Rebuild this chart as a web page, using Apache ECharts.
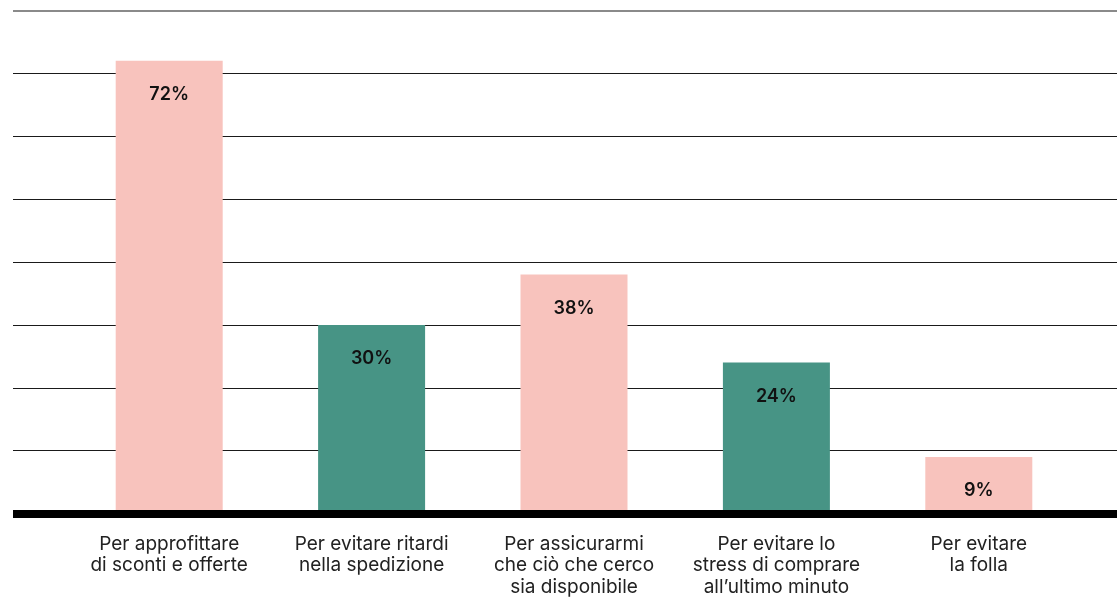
<!DOCTYPE html>
<html>
<head>
<meta charset="utf-8">
<script src="https://cdn.jsdelivr.net/npm/echarts@6/dist/echarts.min.js"></script>
<style>
  html, body { margin: 0; padding: 0; background: #ffffff; }
  #chart { width: 1117px; height: 597px; }
</style>
</head>
<body>
<div id="chart"></div>
<script>
// Reasons for shopping early (share of respondents, %)
const categories = [
  'Per approfittare\ndi sconti e offerte',
  'Per evitare ritardi\nnella spedizione',
  'Per assicurarmi\nche ciò che cerco\nsia disponibile',
  'Per evitare lo\nstress di comprare\nall\u2019ultimo minuto',
  'Per evitare\nla folla'
];
const values = [72, 30, 38, 24, 9];
const barColors = ['#F8C3BD', '#479485', '#F8C3BD', '#479485', '#F8C3BD'];

const yMin = 0, yMax = 80, yStep = 10;
const FONT = 'Inter, "Noto Sans", sans-serif';

const chart = echarts.init(document.getElementById('chart'), null, { renderer: 'canvas' });

const gridTop = 10.5, gridBottom = 83.5;

chart.setOption({
  animation: false,
  backgroundColor: '#ffffff',
  grid: [
    // full-width grid carrying the horizontal rules and baseline
    { left: 13, right: 0, top: gridTop, bottom: gridBottom, outerBoundsMode: 'none', containLabel: false },
    // inner grid carrying the bars
    { left: 68, right: 37, top: gridTop, bottom: gridBottom, outerBoundsMode: 'none', containLabel: false }
  ],
  xAxis: [
    {
      gridIndex: 0, type: 'value', min: 0, max: 1, position: 'bottom',
      offset: 2.6, z: 10,
      axisLine: { show: true, lineStyle: { color: '#000000', width: 8, cap: 'butt' } },
      axisTick: { show: false }, axisLabel: { show: false }, splitLine: { show: false }
    },
    {
      gridIndex: 0, type: 'value', min: 0, max: 1, position: 'top',
      axisLine: { show: true, lineStyle: { color: '#8a8a8a', width: 2, cap: 'butt' } },
      axisTick: { show: false }, axisLabel: { show: false }, splitLine: { show: false }
    },
    {
      gridIndex: 1, type: 'category', data: categories,
      axisLine: { show: false }, axisTick: { show: false },
      axisLabel: {
        interval: 0, margin: 20, color: '#222222', fontFamily: FONT,
        fontSize: 19, lineHeight: 21.5, verticalAlign: 'top', align: 'center'
      }
    }
  ],
  yAxis: [
    {
      gridIndex: 0, type: 'value', min: yMin, max: yMax, interval: yStep,
      axisLine: { show: false }, axisTick: { show: false }, axisLabel: { show: false },
      splitLine: { show: true, lineStyle: { color: '#1a1a1a', width: 1 } }
    },
    {
      gridIndex: 1, type: 'value', min: yMin, max: yMax, interval: yStep,
      axisLine: { show: false }, axisTick: { show: false }, axisLabel: { show: false },
      splitLine: { show: false }
    }
  ],
  series: [
    {
      type: 'bar',
      xAxisIndex: 2, yAxisIndex: 1,
      barWidth: 107,
      data: values.map((v, i) => ({ value: v, itemStyle: { color: barColors[i] } })),
      label: {
        show: true, position: 'insideTop', distance: 25,
        formatter: p => p.value + '%',
        color: '#111111', fontFamily: FONT, fontSize: 18, fontWeight: 600
      }
    }
  ]
});
</script>
</body>
</html>
